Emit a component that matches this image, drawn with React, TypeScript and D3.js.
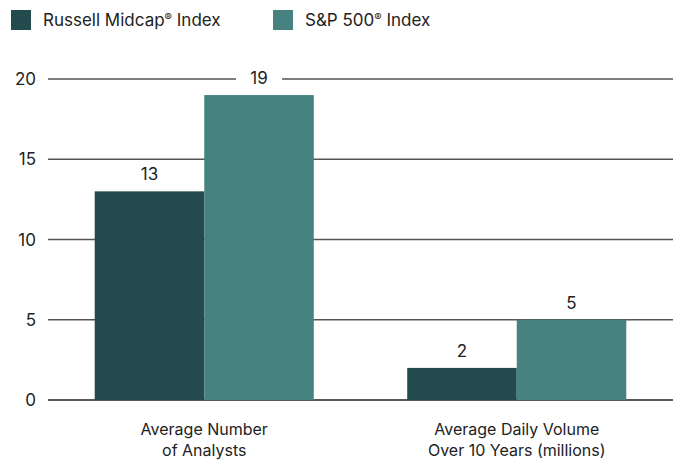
import React from "react";
import * as d3 from "d3";

const categories = ["Average Number|of Analysts", "Average Daily Volume|Over 10 Years (millions)"];
const seriesNames = ["Russell Midcap® Index", "S&P 500® Index"];
const russellValues = [13, 2];
const spValues = [19, 5];
const yTicks = [0, 5, 10, 15, 20];

const W = 673;
const H = 462;
const colors = ["#234a4c", "#468280"];
const FONT = "Inter, Roboto, sans-serif";

function LegendLabel({ text }: { text: string }) {
  const parts = text.split("®");
  return (
    <>
      <tspan>{parts[0]}</tspan>
      <tspan fontSize={11} dy={-5}>®</tspan>
      <tspan dy={5}>{parts[1]}</tspan>
    </>
  );
}

export default function App() {
  const y = d3.scaleLinear().domain([0, 20]).range([400, 79]);
  const x0 = d3.scaleBand<string>().domain(categories).range([48, 673]).paddingInner(0.299).paddingOuter(0.1495);
  const x1 = d3.scaleBand<string>().domain(seriesNames).range([0, x0.bandwidth()]).padding(0);
  const values = [russellValues, spValues];

  const legendX = [11, 273];

  return (
    <svg width={W} height={H} style={{ position: "absolute", left: 0, top: 0, background: "#fff" }} fontFamily={FONT}>
      {/* legend */}
      {seriesNames.map((s, i) => (
        <g key={s}>
          <rect x={legendX[i]} y={10} width={20} height={20} fill={colors[i]} />
          <text x={legendX[i] + 32} y={26} fontSize={17} fill="#222"><LegendLabel text={s} /></text>
        </g>
      ))}
      {/* gridlines */}
      {yTicks.map((t) => (
        <g key={t}>
          <line x1={48} x2={673} y1={y(t)} y2={y(t)} stroke={t === 0 ? "#222" : "#555"} strokeWidth={1.4} />
          <text x={36} y={y(t) + 6} textAnchor="end" fontSize={17} fill="#222">{t}</text>
        </g>
      ))}
      {/* bars */}
      {categories.map((c, ci) => (
        <g key={c} transform={`translate(${x0(c)},0)`}>
          {seriesNames.map((s, si) => {
            const v = values[si][ci];
            return (
              <rect key={s} x={x1(s)} y={y(v)} width={x1.bandwidth()} height={y(0) - y(v)} fill={colors[si]} />
            );
          })}
        </g>
      ))}
      {/* value labels */}
      {categories.map((c, ci) => (
        <g key={c + "l"} transform={`translate(${x0(c)},0)`}>
          {seriesNames.map((s, si) => {
            const v = values[si][ci];
            const cx = (x1(s) as number) + x1.bandwidth() / 2;
            const by = y(v) - 11;
            return (
              <g key={s}>
                <rect x={cx - 23} y={by - 16} width={46} height={20} fill="#fff" />
                <text x={cx} y={by} textAnchor="middle" fontSize={17} fill="#222">{v}</text>
              </g>
            );
          })}
        </g>
      ))}
      {/* x labels */}
      {categories.map((c) => {
        const cx = (x0(c) as number) + x0.bandwidth() / 2;
        return (
          <text key={c + "x"} x={cx} textAnchor="middle" fontSize={16} fill="#222">
            {c.split("|").map((line, li) => (
              <tspan key={li} x={cx} y={435 + li * 21}>{line}</tspan>
            ))}
          </text>
        );
      })}
    </svg>
  );
}
